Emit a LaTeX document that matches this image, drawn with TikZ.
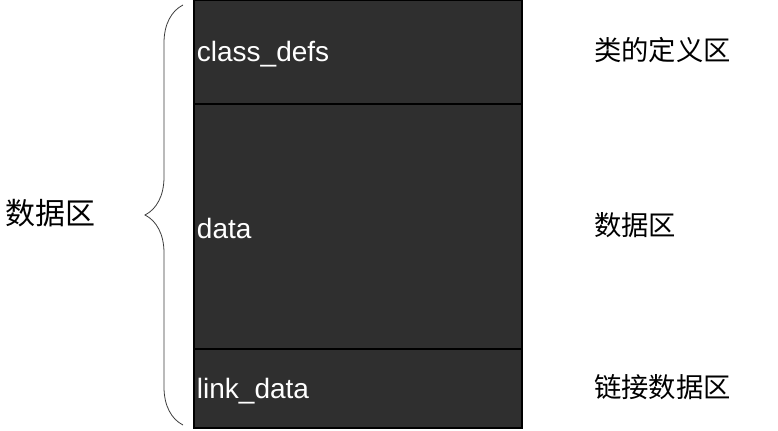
\documentclass[tikz,border=0pt]{standalone}
\usepackage{fontspec}
\setmainfont{Liberation Sans}
\newfontfamily\cjk{Noto Sans CJK SC}
\usetikzlibrary{positioning}
\usetikzlibrary{decorations.pathreplacing}
\definecolor{boxgray}{RGB}{47,47,47}
\definecolor{bracegray}{RGB}{60,60,60}
\newcommand{\widthsegment}{246pt}
\tikzset{
    segment/.style={draw=black, fill=boxgray, rectangle, line width=0.8pt, minimum width=\widthsegment, inner sep=0pt, outer sep=0pt},
    segtext/.style={anchor=west, text=white, inner sep=2pt, yshift=-1.8pt, font=\fontsize{21}{25}\selectfont},
    areatext/.style={anchor=west, inner sep=0pt, font=\cjk\fontsize{20.5}{24}\selectfont},
    bracket/.style={draw=bracegray, line width=0.6pt, decorate, decoration={brace, amplitude=28.5pt}},
}

\begin{document}
\begin{tikzpicture}[x=0.75pt, y=-0.75pt]
    \useasboundingbox (0,0) rectangle (778,431);
    % memory layout
    \node[segment, anchor=north west, minimum height=78pt] (classdefs) at (194,0) {};
    \node[segment, below=0pt of classdefs, minimum height=183.75pt] (data) {};
    \node[segment, below=0pt of data, minimum height=59.25pt] (linkdata) {};
    \node[segtext] (classdefsname) at (classdefs.west) {class\_defs};
    \node[segtext] (dataname) at (data.west) {data};
    \node[segtext] (linkdataname) at (linkdata.west) {link\_data};
    % descriptions
    \node[areatext] (classdefsdesc) at (594,50) {类的定义区};
    \node[areatext] (datadesc) at (594,225) {数据区};
    \node[areatext] (linkdatadesc) at (594,387) {链接数据区};
    % brace
    \coordinate (bracebot) at (183,425);
    \coordinate (bracetop) at (183,5);
    \draw[bracket] (bracebot) -- (bracetop);
    \node[areatext, font=\cjk\fontsize{22.5}{27}\selectfont] (wholedata) at (5,213) {数据区};
\end{tikzpicture}
\end{document}
